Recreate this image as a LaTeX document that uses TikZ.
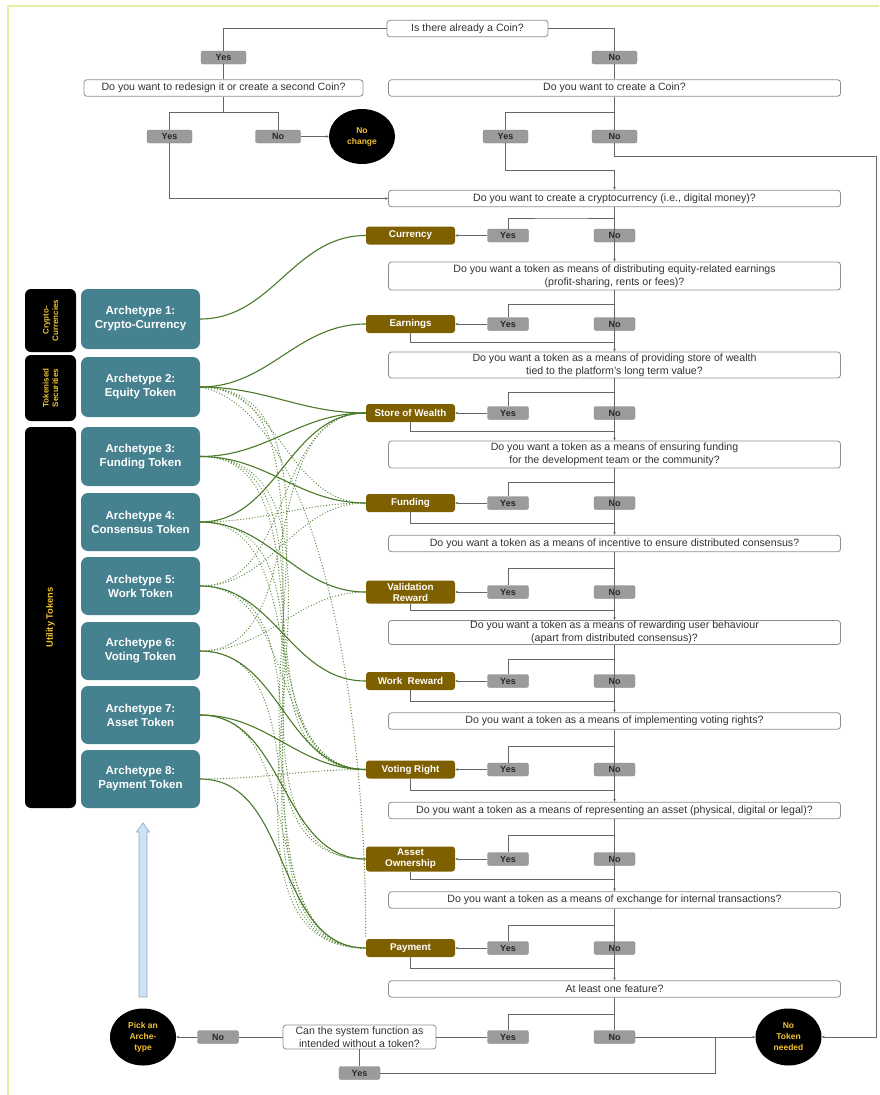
\documentclass[tikz,border=0pt]{standalone}
\usepackage{fontspec}
\setmainfont{Liberation Sans}
\usetikzlibrary{shapes.geometric,arrows.meta,calc}

\definecolor{qborder}{HTML}{8E8E8E}
\definecolor{qtext}{HTML}{333333}
\definecolor{yngray}{HTML}{9B9B9B}
\definecolor{featbrown}{HTML}{7F6000}
\definecolor{archteal}{HTML}{45818E}
\definecolor{termyellow}{HTML}{F1C232}
\definecolor{linegray}{HTML}{666666}
\definecolor{linkgreen}{HTML}{4B7A2B}
\definecolor{optgreen}{HTML}{5E8A40}
\definecolor{framegreen}{HTML}{E3EE9E}
\definecolor{pickfill}{HTML}{CFE2F3}
\definecolor{pickedge}{HTML}{8FA9C8}

\tikzset{
  qbox/.style={draw=qborder, line width=0.8pt, rounded corners=3pt, fill=white, text=qtext,
    font=\fontsize{10.6}{12.6}\selectfont, align=center, inner sep=0pt,
    minimum height=16.5pt, minimum width=452pt},
  ynbox/.style={fill=yngray, draw=yngray!85!black, line width=0.3pt, rounded corners=2pt,
    text=black!85, font=\bfseries\fontsize{9}{10}\selectfont, inner sep=0pt,
    minimum width=41pt, minimum height=13pt},
  featbox/.style={fill=featbrown, rounded corners=3pt, text=white,
    font=\bfseries\fontsize{9.8}{11}\selectfont, align=center, inner sep=0pt,
    minimum width=89pt, minimum height=18pt},
  archbox/.style={fill=archteal, rounded corners=7pt, text=white,
    font=\bfseries\fontsize{11.5}{14}\selectfont, align=center, inner sep=0pt,
    minimum width=119pt, minimum height=58pt},
  catbox/.style={fill=black, rounded corners=6pt, text=termyellow,
    font=\bfseries\fontsize{8}{9.5}\selectfont, align=center, inner sep=0pt,
    rotate=90, minimum height=51pt},
  term/.style={ellipse, fill=black, text=termyellow,
    font=\bfseries\fontsize{8.5}{11}\selectfont, align=center, inner sep=0pt,
    minimum width=66pt, minimum height=57pt},
  flow/.style={draw=linegray, line width=0.7pt},
  arr/.style={flow, -{Stealth[length=3pt,width=2.6pt]}},
  link/.style={draw=linkgreen, line width=1.1pt},
  opt/.style={draw=optgreen, line width=1.35pt, line cap=round, dash pattern=on 0pt off 2.9pt},
}

\begin{document}
\begin{tikzpicture}[x=1pt,y=-1pt]
\useasboundingbox (0,0) rectangle (879,1095);
\fill[white] (0,0) rectangle (879,1095);
\draw[framegreen, line width=1.6pt] (8,1095) -- (8,6) -- (879,6);

% ---------- opening questions ----------
\node[qbox, minimum width=161pt] (q0) at (467.5,28.5) {Is there already a Coin?};
\node[ynbox, minimum width=45pt] (y0) at (223.5,57.5) {Yes};
\node[ynbox, minimum width=45pt] (n0) at (614.5,57.5) {No};
\node[qbox, minimum width=279pt] (q1a) at (223.5,88) {Do you want to redesign it or create a second Coin?};
\node[qbox] (q1b) at (614.5,88) {Do you want to create a Coin?};
\node[ynbox, minimum width=45pt] (y1a) at (169.5,136.5) {Yes};
\node[ynbox, minimum width=45pt] (n1a) at (278,136.5) {No};
\node[term, minimum height=55pt] (nochange) at (362,136.5) {No\\change};
\node[ynbox, minimum width=45pt] (y1b) at (505.5,136.5) {Yes};
\node[ynbox, minimum width=45pt] (n1b) at (614.5,136.5) {No};

% ---------- feature questions ----------
\node[qbox] (q2) at (614.5,198.5) {Do you want to create a cryptocurrency (i.e., digital money)?};
\node[qbox, minimum height=28pt] (q3) at (614.5,276) {Do you want a token as means of distributing equity-related earnings\\(profit-sharing, rents or fees)?};
\node[qbox, minimum height=26pt] (q4) at (614.5,365) {Do you want a token as a means of providing store of wealth\\tied to the platform’s long term value?};
\node[qbox, minimum height=27pt] (q5) at (614.5,454.5) {Do you want a token as a means of ensuring funding\\for the development team or the community?};
\node[qbox] (q6) at (614.5,543.5) {Do you want a token as a means of incentive to ensure distributed consensus?};
\node[qbox, minimum height=24pt] (q7) at (614.5,632.5) {Do you want a token as a means of rewarding user behaviour\\(apart from distributed consensus)?};
\node[qbox] (q8) at (614.5,721) {Do you want a token as a means of implementing voting rights?};
\node[qbox] (q9) at (614.5,810.5) {Do you want a token as a means of representing an asset (physical, digital or legal)?};
\node[qbox] (q10) at (614.5,900) {Do you want a token as a means of exchange for internal transactions?};
\node[qbox] (q11) at (614.5,989) {At least one feature?};

% ---------- answers and features ----------
\node[ynbox] (y2) at (508,235.5) {Yes};  \node[ynbox] (n2) at (614.5,235.5) {No};
\node[featbox] (f2) at (410.5,235.5) {Currency};
\node[ynbox] (y3) at (508,324) {Yes};    \node[ynbox] (n3) at (614.5,324) {No};
\node[featbox] (f3) at (410.5,324) {Earnings};
\node[ynbox] (y4) at (508,413) {Yes};    \node[ynbox] (n4) at (614.5,413) {No};
\node[featbox] (f4) at (410.5,413) {Store of Wealth};
\node[ynbox] (y5) at (508,503) {Yes};    \node[ynbox] (n5) at (614.5,503) {No};
\node[featbox] (f5) at (410.5,503) {Funding};
\node[ynbox] (y6) at (508,592) {Yes};    \node[ynbox] (n6) at (614.5,592) {No};
\node[featbox, minimum height=23pt] (f6) at (410.5,592) {Validation\\Reward};
\node[ynbox] (y7) at (508,681) {Yes};    \node[ynbox] (n7) at (614.5,681) {No};
\node[featbox] (f7) at (410.5,681) {Work\ \ Reward};
\node[ynbox] (y8) at (508,769.5) {Yes};  \node[ynbox] (n8) at (614.5,769.5) {No};
\node[featbox] (f8) at (410.5,769.5) {Voting Right};
\node[ynbox] (y9) at (508,859) {Yes};    \node[ynbox] (n9) at (614.5,859) {No};
\node[featbox, minimum height=25pt] (f9) at (410.5,859) {Asset\\Ownership};
\node[ynbox] (y10) at (508,948) {Yes};   \node[ynbox] (n10) at (614.5,948) {No};
\node[featbox] (f10) at (410.5,948) {Payment};
\node[ynbox] (y11) at (508,1037) {Yes};  \node[ynbox] (n11) at (614.5,1037) {No};

% ---------- closing nodes ----------
\node[qbox, minimum width=153pt, minimum height=24pt] (can) at (359.5,1037) {Can the system function as\\intended without a token?};
\node[ynbox] (ycan) at (359.5,1073) {Yes};
\node[ynbox] (ncan) at (218,1037) {No};
\node[term] (pick) at (143,1037) {Pick an\\Arche-\\type};
\node[term] (notoken) at (788.5,1037) {No\\Token\\needed};

% ---------- categories and archetypes ----------
\node[catbox, minimum width=63pt] (c1) at (50.5,320.5) {Crypto-\\Currencies};
\node[catbox, minimum width=66pt] (c2) at (50.5,388) {Tokenised\\Securities};
\node[catbox, minimum width=381pt, font=\bfseries\fontsize{9.3}{11}\selectfont] (c3) at (50.5,617.5) {Utility Tokens};

\node[archbox, minimum height=60pt] (a1) at (140.5,319) {Archetype 1:\\Crypto-Currency};
\node[archbox, minimum height=60pt] (a2) at (140.5,387) {Archetype 2:\\Equity Token};
\node[archbox, minimum height=59pt] (a3) at (140.5,456.5) {Archetype 3:\\Funding Token};
\node[archbox] (a4) at (140.5,522) {Archetype 4:\\Consensus Token};
\node[archbox] (a5) at (140.5,586) {Archetype 5:\\Work Token};
\node[archbox] (a6) at (140.5,651) {Archetype 6:\\Voting Token};
\node[archbox] (a7) at (140.5,715) {Archetype 7:\\Asset Token};
\node[archbox] (a8) at (140.5,779) {Archetype 8:\\Payment Token};

% block arrow from the terminal up to the archetypes
\draw[pickedge, fill=pickfill, line width=0.6pt]
  (139,997) -- (139,832) -- (136.5,832) -- (143,823) -- (149.5,832) -- (147,832) -- (147,997) -- cycle;

% ---------- flow lines: opening ----------
\draw[flow] (q0.west) -| (y0.north);
\draw[flow] (y0.south) -- (q1a.north);
\draw[flow] (q0.east) -| (n0.north);
\draw[flow] (n0.south) -- (q1b.north);

\coordinate (b1a) at ($(q1a.south)+(0,16)$);
\draw[flow] (q1a.south) -- (b1a);
\draw[flow] (y1a.north) |- (b1a) -| (n1a.north);
\draw[arr] (n1a.east) -- (nochange.west);
\draw[arr] (y1a.south) |- (q2.west);

\coordinate (b1b) at ($(q1b.south)+(0,16)$);
\draw[flow] (q1b.south) -- (n1b.north);
\draw[flow] (b1b) -| (y1b.north);
\coordinate (j2) at ($(q2.north)+(0,-20)$);
\draw[arr] (y1b.south) |- (j2) -- (q2.north);
\coordinate (rt) at (876,156);
\draw[arr] (n1b.south) |- (rt) |- (notoken.east);

% ---------- flow lines: feature chain ----------
\draw[flow] (q2.south) |- ($(q2.south)!.5!(y2.north)$) -| (y2.north);
\draw[arr] (q2.south) -- (q3.north);
\draw[arr] (y2.west) -- (f2.east);

\draw[flow] (q3.south) |- ($(q3.south)!.5!(y3.north)$) -| (y3.north);
\draw[arr] (q3.south) -- (q4.north);
\draw[arr] (y3.west) -- (f3.east);
\draw[flow] (f3.south) |- ($(n3.south)!.55!(q4.north)$);

\draw[flow] (q4.south) |- ($(q4.south)!.5!(y4.north)$) -| (y4.north);
\draw[arr] (q4.south) -- (q5.north);
\draw[arr] (y4.west) -- (f4.east);
\draw[flow] (f4.south) |- ($(n4.south)!.55!(q5.north)$);

\draw[flow] (q5.south) |- ($(q5.south)!.5!(y5.north)$) -| (y5.north);
\draw[arr] (q5.south) -- (q6.north);
\draw[arr] (y5.west) -- (f5.east);
\draw[flow] (f5.south) |- ($(n5.south)!.55!(q6.north)$);

\draw[flow] (q6.south) |- ($(q6.south)!.5!(y6.north)$) -| (y6.north);
\draw[arr] (q6.south) -- (q7.north);
\draw[arr] (y6.west) -- (f6.east);
\draw[flow] (f6.south) |- ($(n6.south)!.55!(q7.north)$);

\draw[flow] (q7.south) |- ($(q7.south)!.5!(y7.north)$) -| (y7.north);
\draw[arr] (q7.south) -- (q8.north);
\draw[arr] (y7.west) -- (f7.east);
\draw[flow] (f7.south) |- ($(n7.south)!.55!(q8.north)$);

\draw[flow] (q8.south) |- ($(q8.south)!.5!(y8.north)$) -| (y8.north);
\draw[arr] (q8.south) -- (q9.north);
\draw[arr] (y8.west) -- (f8.east);
\draw[flow] (f8.south) |- ($(n8.south)!.55!(q9.north)$);

\draw[flow] (q9.south) |- ($(q9.south)!.5!(y9.north)$) -| (y9.north);
\draw[arr] (q9.south) -- (q10.north);
\draw[arr] (y9.west) -- (f9.east);
\draw[flow] (f9.south) |- ($(n9.south)!.55!(q10.north)$);

\draw[flow] (q10.south) |- ($(q10.south)!.5!(y10.north)$) -| (y10.north);
\draw[arr] (q10.south) -- (q11.north);
\draw[arr] (y10.west) -- (f10.east);
\draw[flow] (f10.south) |- ($(n10.south)!.55!(q11.north)$);

% ---------- flow lines: closing ----------
\draw[flow] (q11.south) |- ($(q11.south)!.5!(y11.north)$) -| (y11.north);
\draw[flow] (q11.south) -- (n11.north);
\draw[arr] (n11.east) -- (notoken.west);
\draw[flow] (y11.west) -- (can.east);
\draw[flow] (can.west) -- (ncan.east);
\draw[arr] (ncan.west) -- (pick.east);
\draw[flow] (can.south) -- (ycan.north);
\coordinate (jb) at (715,1037);
\draw[flow] (ycan.east) -| (jb);

% ---------- optional features (dotted) ----------
\draw[opt] (a2.east) to[out=0,in=180] (f5.west);
\draw[opt] (a2.east) to[out=0,in=180] (f8.west);
\draw[opt] (a2.east) to[out=0,in=180] (f9.west);
\draw[opt] (a2.east) .. controls +(110,20) and +(0,-260) .. (f10.north west);
\draw[opt] (a3.east) to[out=0,in=180] (f8.west);
\draw[opt] (a3.east) to[out=0,in=180] (f9.west);
\draw[opt] (a3.east) to[out=0,in=180] (f10.west);
\draw[opt] (a4.east) to[out=0,in=180] (f5.west);
\draw[opt] (a4.east) to[out=0,in=180] (f8.west);
\draw[opt] (a4.east) to[out=0,in=180] (f10.west);
\draw[opt] (a5.east) to[out=0,in=180] (f4.west);
\draw[opt] (a5.east) to[out=0,in=180] (f5.west);
\draw[opt] (a5.east) to[out=0,in=180] (f8.west);
\draw[opt] (a5.east) to[out=0,in=180] (f10.west);
\draw[opt] (a6.east) to[out=0,in=180] (f4.west);
\draw[opt] (a6.east) to[out=0,in=180] (f6.west);
\draw[opt] (a6.east) to[out=0,in=180] (f10.west);
\draw[opt] (a7.east) to[out=0,in=180] (f10.west);
\draw[opt] (a8.east) to[out=0,in=180] (f8.west);

% ---------- required features (solid) ----------
\draw[link] (a1.east) to[out=0,in=180] (f2.west);
\draw[link] (a2.east) to[out=0,in=180] (f3.west);
\draw[link] (a2.east) to[out=0,in=180] (f4.west);
\draw[link] (a3.east) to[out=0,in=180] (f4.west);
\draw[link] (a3.east) to[out=0,in=180] (f5.west);
\draw[link] (a4.east) to[out=0,in=180] (f4.west);
\draw[link] (a4.east) to[out=0,in=180] (f6.west);
\draw[link] (a5.east) to[out=0,in=180] (f7.west);
\draw[link] (a6.east) to[out=0,in=180] (f8.west);
\draw[link] (a7.east) to[out=0,in=180] (f8.west);
\draw[link] (a7.east) to[out=0,in=180] (f9.west);
\draw[link] (a8.east) to[out=0,in=180] (f10.west);
\end{tikzpicture}
\end{document}
